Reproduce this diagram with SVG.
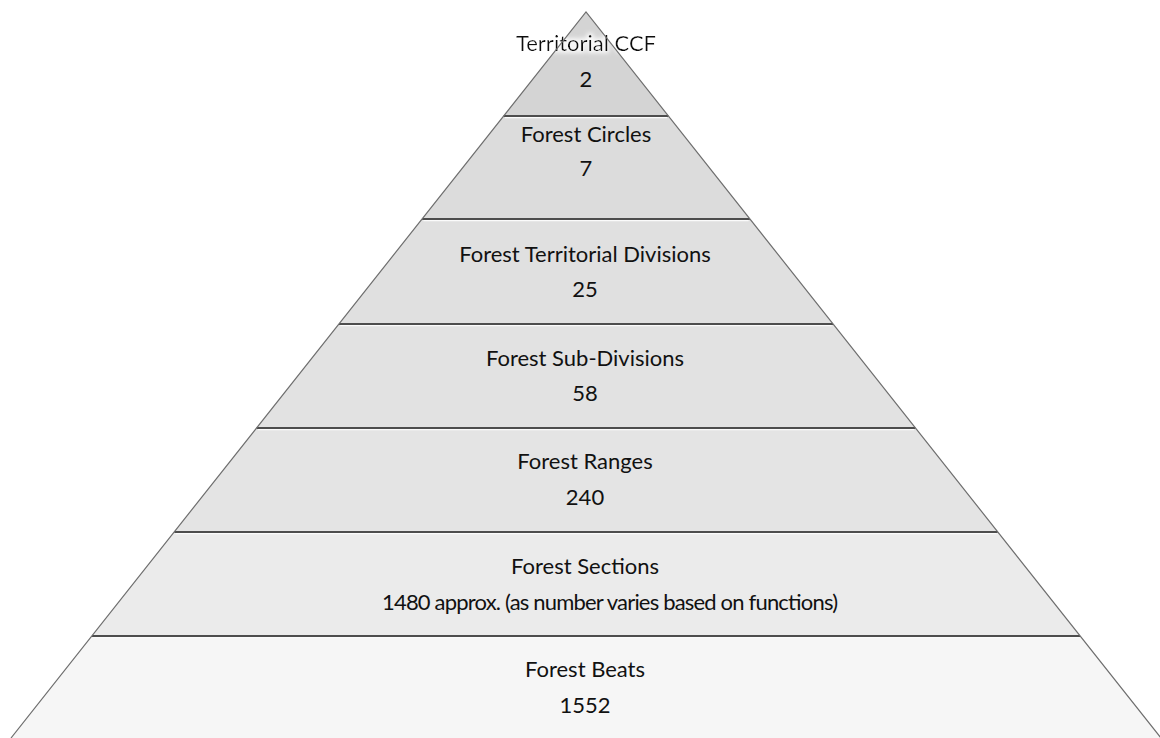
<svg xmlns="http://www.w3.org/2000/svg" width="1160" height="738" viewBox="0 0 1160 738">
  <defs>
    <style>
      .band { stroke: none; }
      .sep { stroke: #4d4d4d; stroke-width: 2; }
      .sep-hi { stroke: #fbfbfb; stroke-width: 1.2; }
      .edge { fill: none; stroke: #6e6e6e; stroke-width: 1.2; }
      .lbl { font-family: "Lato", "Open Sans", "Liberation Sans", sans-serif; font-size: 22px; fill: #111; text-anchor: middle; }
    </style>
    <filter id="halo" x="-20%" y="-50%" width="140%" height="200%">
      <feMorphology in="SourceAlpha" operator="dilate" radius="1.5" result="d"/>
      <feGaussianBlur in="d" stdDeviation="2" result="b"/>
      <feFlood flood-color="#ffffff" flood-opacity="0.85"/>
      <feComposite in2="b" operator="in" result="glow"/>
      <feMerge>
        <feMergeNode in="glow"/>
        <feMergeNode in="SourceGraphic"/>
      </feMerge>
    </filter>
  </defs>

  <rect width="1160" height="738" fill="#ffffff"/>

  <!-- pyramid tiers, top to bottom -->
  <g id="tier-ccf">
    <polygon class="band" points="586,12 668.3,116 503.7,116" fill="#d4d4d4"/>
    <text class="lbl" x="586" y="51" filter="url(#halo)">Territorial CCF</text>
    <text class="lbl" x="586" y="87">2</text>
  </g>
  <g id="tier-circles">
    <polygon class="band" points="503.7,116 668.3,116 749.9,219 422.1,219" fill="#dcdcdc"/>
    <text class="lbl" x="586" y="142">Forest Circles</text>
    <text class="lbl" x="586" y="176">7</text>
  </g>
  <g id="tier-divisions">
    <polygon class="band" points="422.1,219 749.9,219 833,324 339,324" fill="#e0e0e0"/>
    <text class="lbl" x="585" y="262">Forest Territorial Divisions</text>
    <text class="lbl" x="585" y="297">25</text>
  </g>
  <g id="tier-subdivisions">
    <polygon class="band" points="339,324 833,324 915.3,428 256.7,428" fill="#e2e2e2"/>
    <text class="lbl" x="585" y="366">Forest Sub-Divisions</text>
    <text class="lbl" x="585" y="401">58</text>
  </g>
  <g id="tier-ranges">
    <polygon class="band" points="256.7,428 915.3,428 997.7,532 174.3,532" fill="#e4e4e4"/>
    <text class="lbl" x="585" y="469">Forest Ranges</text>
    <text class="lbl" x="585" y="505">240</text>
  </g>
  <g id="tier-sections">
    <polygon class="band" points="174.3,532 997.7,532 1080,636 92,636" fill="#ebebeb"/>
    <text class="lbl" x="585" y="574">Forest Sections</text>
    <text class="lbl" x="610" y="610" textLength="456" lengthAdjust="spacing">1480 approx. (as number varies based on functions)</text>
  </g>
  <g id="tier-beats">
    <polygon class="band" points="92,636 1080,636 1161,738 11,738" fill="#f6f6f6"/>
    <text class="lbl" x="585" y="677">Forest Beats</text>
    <text class="lbl" x="585" y="713">1552</text>
  </g>

  <!-- tier separators and outline -->
  <g id="connectors">
    <line class="sep" x1="503.7" y1="116" x2="668.3" y2="116" stroke="#2a2a2a"/>
    <line class="sep" x1="422.1" y1="219" x2="749.9" y2="219"/>
    <line class="sep" x1="339" y1="324" x2="833" y2="324"/>
    <line class="sep" x1="256.7" y1="428" x2="915.3" y2="428"/>
    <line class="sep" x1="174.3" y1="532" x2="997.7" y2="532"/>
    <line class="sep" x1="92" y1="636" x2="1080" y2="636"/>
    <line class="sep-hi" x1="505" y1="117.6" x2="667" y2="117.6"/>
    <line class="sep-hi" x1="423.4" y1="220.6" x2="748.6" y2="220.6"/>
    <line class="sep-hi" x1="340.3" y1="325.6" x2="831.7" y2="325.6"/>
    <line class="sep-hi" x1="258" y1="429.6" x2="914" y2="429.6"/>
    <line class="sep-hi" x1="175.6" y1="533.6" x2="996.4" y2="533.6"/>
    <line class="sep-hi" x1="93.3" y1="637.6" x2="1078.7" y2="637.6"/>
    <polyline class="edge" points="11,738 586,12 1161,738"/>
  </g>
</svg>
